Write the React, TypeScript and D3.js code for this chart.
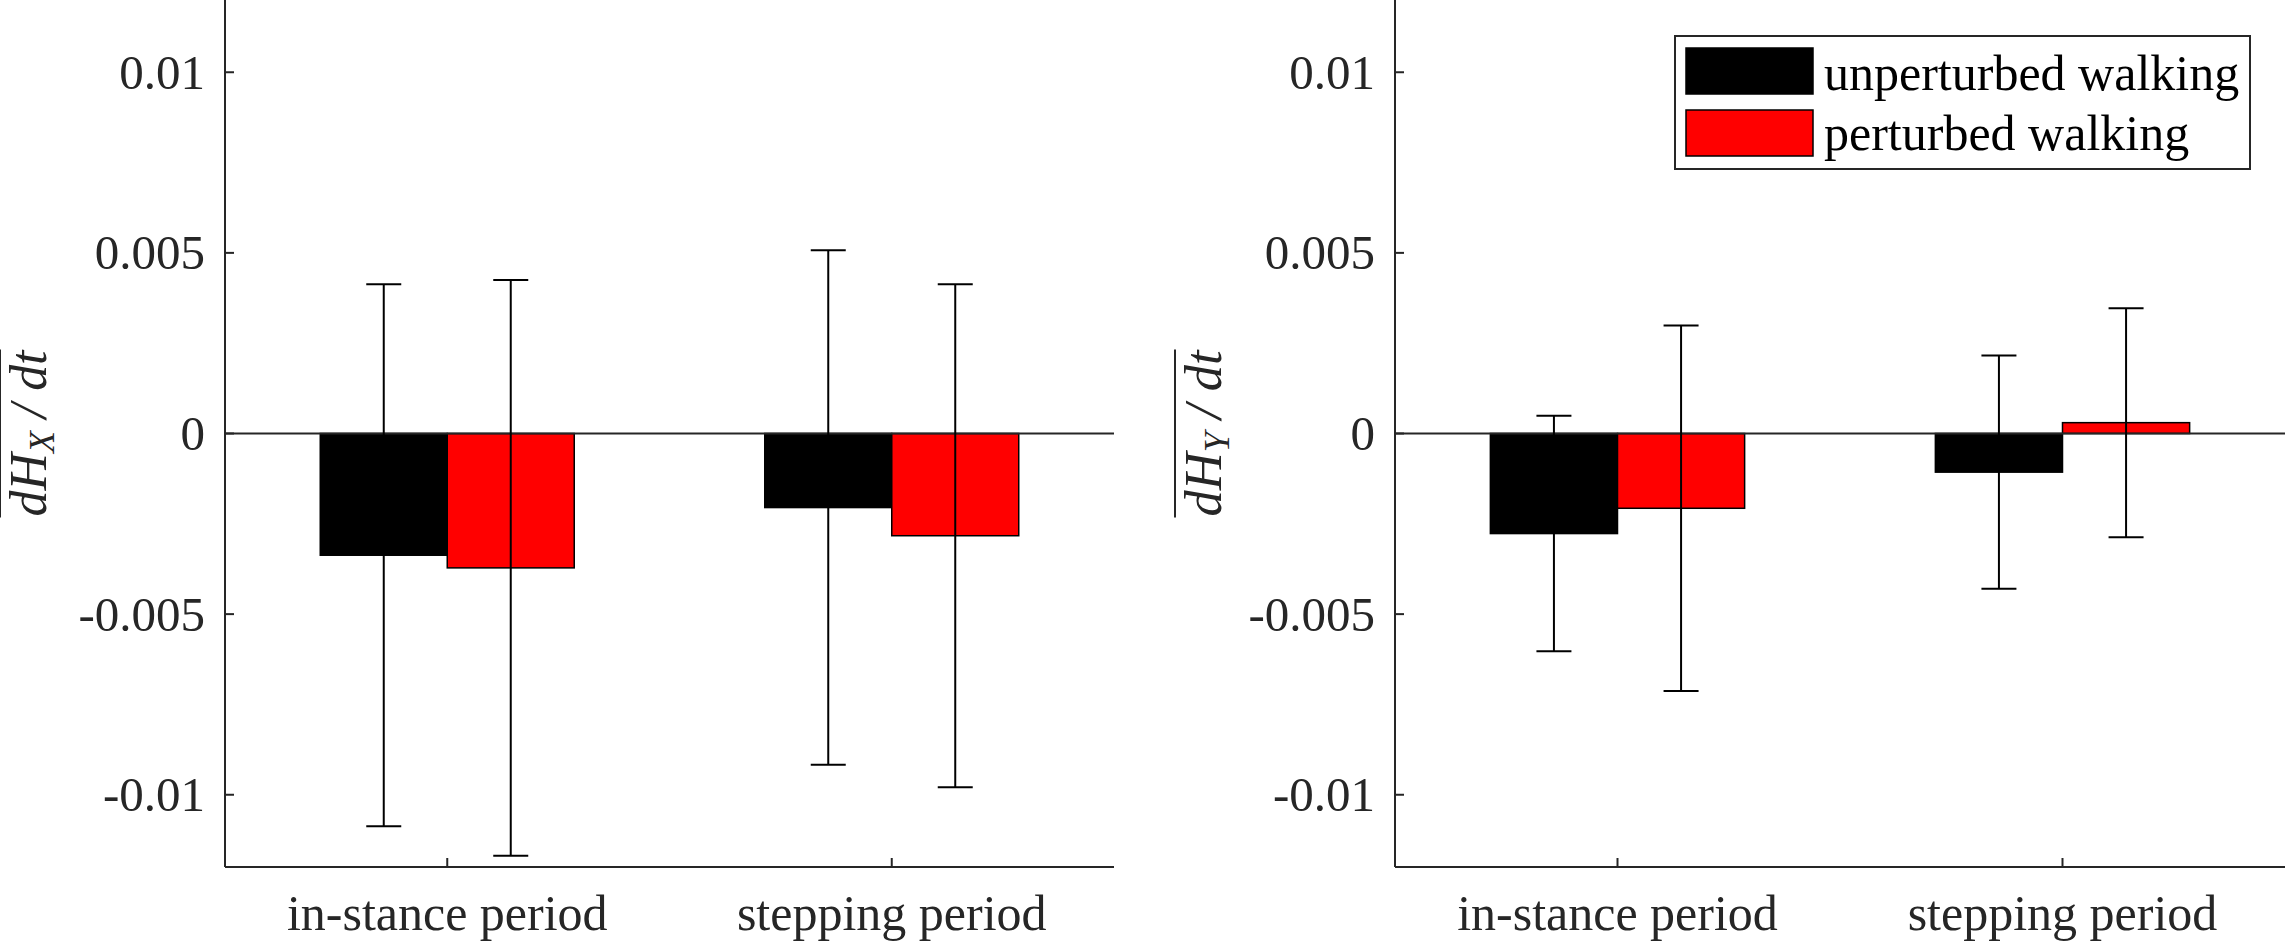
import React, { useEffect } from 'react';
import * as d3 from 'd3';

// chart values
const categories = ['in-stance period', 'stepping period'];
const seriesNames = ['unperturbed walking', 'perturbed walking'];
const seriesColors = ['#000000', '#ff0000'];
const yTicks = [0.01, 0.005, 0, -0.005, -0.01];
const yTickLabels = ['0.01', '0.005', '0', '-0.005', '-0.01'];

// dH_X/dt panel
const meanX = [
  [-0.00337, -0.00205],
  [-0.00372, -0.00283],
];
const sdX = [
  [0.0075, 0.00712],
  [0.00797, 0.00696],
];

// dH_Y/dt panel
const meanY = [
  [-0.00277, -0.00107],
  [-0.00207, 0.0003],
];
const sdY = [
  [0.00326, 0.00323],
  [0.00506, 0.00317],
];

const W = 2286;
const H = 943;
const FONT = '"Liberation Serif", "Times New Roman", serif';
const AXIS = '#262626';

function Panel(props: any) {
  const { left, right, means, sds, sub, labelX, legend } = props;
  const x = d3.scaleLinear().domain([0.5, 2.5]).range([left, right]);
  const y = d3.scaleLinear().domain([-0.012, 0.012]).range([867, 0]);
  const barW = 0.2857;
  const offs = [-barW / 2, barW / 2];

  return (
    <g>
      {/* bars */}
      {means.map((row: number[], s: number) =>
        row.map((v, c) => {
          const x0 = x(c + 1 + offs[s] - barW / 2);
          const x1 = x(c + 1 + offs[s] + barW / 2);
          return (
            <rect
              key={`b${s}${c}`}
              x={x0}
              y={Math.min(y(v), y(0))}
              width={x1 - x0}
              height={Math.abs(y(v) - y(0))}
              fill={seriesColors[s]}
              stroke="#000"
              strokeWidth={1.5}
            />
          );
        })
      )}
      {/* baseline */}
      <line x1={left} x2={right} y1={y(0)} y2={y(0)} stroke={AXIS} strokeWidth={1.8} />
      {/* error bars */}
      {means.map((row: number[], s: number) =>
        row.map((v, c) => {
          const cx = x(c + 1 + offs[s]);
          const hi = y(v + sds[s][c]);
          const lo = y(v - sds[s][c]);
          return (
            <g key={`e${s}${c}`} stroke="#000" strokeWidth={2}>
              <line x1={cx} x2={cx} y1={hi} y2={lo} />
              <line x1={cx - 17.5} x2={cx + 17.5} y1={hi} y2={hi} />
              <line x1={cx - 17.5} x2={cx + 17.5} y1={lo} y2={lo} />
            </g>
          );
        })
      )}
      {/* axes */}
      <line x1={left} x2={left} y1={0} y2={867} stroke={AXIS} strokeWidth={2} />
      <line x1={left} x2={right} y1={867} y2={867} stroke={AXIS} strokeWidth={2} />
      {yTicks.map((t, i) => (
        <g key={`yt${i}`}>
          <line x1={left} x2={left + 9} y1={y(t)} y2={y(t)} stroke={AXIS} strokeWidth={2} />
          <text
            x={left - 20}
            y={y(t)}
            textAnchor="end"
            dominantBaseline="central"
            fontFamily={FONT}
            fontSize={49}
            fill={AXIS}
          >
            {yTickLabels[i]}
          </text>
        </g>
      ))}
      {categories.map((c, i) => (
        <g key={`xt${i}`}>
          <line x1={x(i + 1)} x2={x(i + 1)} y1={867} y2={858} stroke={AXIS} strokeWidth={2} />
          <text x={x(i + 1)} y={930} textAnchor="middle" fontFamily={FONT} fontSize={50} fill={AXIS}>
            {c}
          </text>
        </g>
      ))}
      {/* y label: overline dH_sub / dt */}
      <g transform={`translate(${labelX},${y(0)}) rotate(-90)`}>
        <line x1={-84} x2={84} y1={-46} y2={-46} stroke={AXIS} strokeWidth={2} />
        <text
          x={0}
          y={0}
          textAnchor="middle"
          fontFamily={FONT}
          fontStyle="italic"
          fontSize={52}
          fill={AXIS}
          textLength={166}
          lengthAdjust="spacingAndGlyphs"
        >
          dH
          <tspan fontSize={36} dy={8}>{sub}</tspan>
          <tspan dy={-8}> / dt</tspan>
        </text>
      </g>
      {legend && (
        <g>
          <rect x={1675} y={36} width={575} height={133} fill="#fff" stroke={AXIS} strokeWidth={2} />
          {seriesNames.map((n, i) => (
            <g key={`lg${i}`}>
              <rect
                x={1686}
                y={48 + i * 62}
                width={127}
                height={46}
                fill={seriesColors[i]}
                stroke="#000"
                strokeWidth={1.5}
              />
              <text x={1824} y={90 + i * 60} fontFamily={FONT} fontSize={50} fill="#000">
                {n}
              </text>
            </g>
          ))}
        </g>
      )}
    </g>
  );
}

export default function App() {
  useEffect(() => {
    document.body.style.margin = '0';
    document.body.style.overflow = 'hidden';
  }, []);

  return (
    <svg
      width={W}
      height={H}
      viewBox={`0 0 ${W} ${H}`}
      style={{ position: 'absolute', left: 0, top: 0, background: '#fff' }}
    >
      <rect x={0} y={0} width={W} height={H} fill="#fff" />
      <Panel left={225} right={1114} means={meanX} sds={sdX} sub="X" labelX={46} legend={false} />
      <Panel left={1395} right={2285} means={meanY} sds={sdY} sub="Y" labelX={1221} legend={true} />
    </svg>
  );
}
